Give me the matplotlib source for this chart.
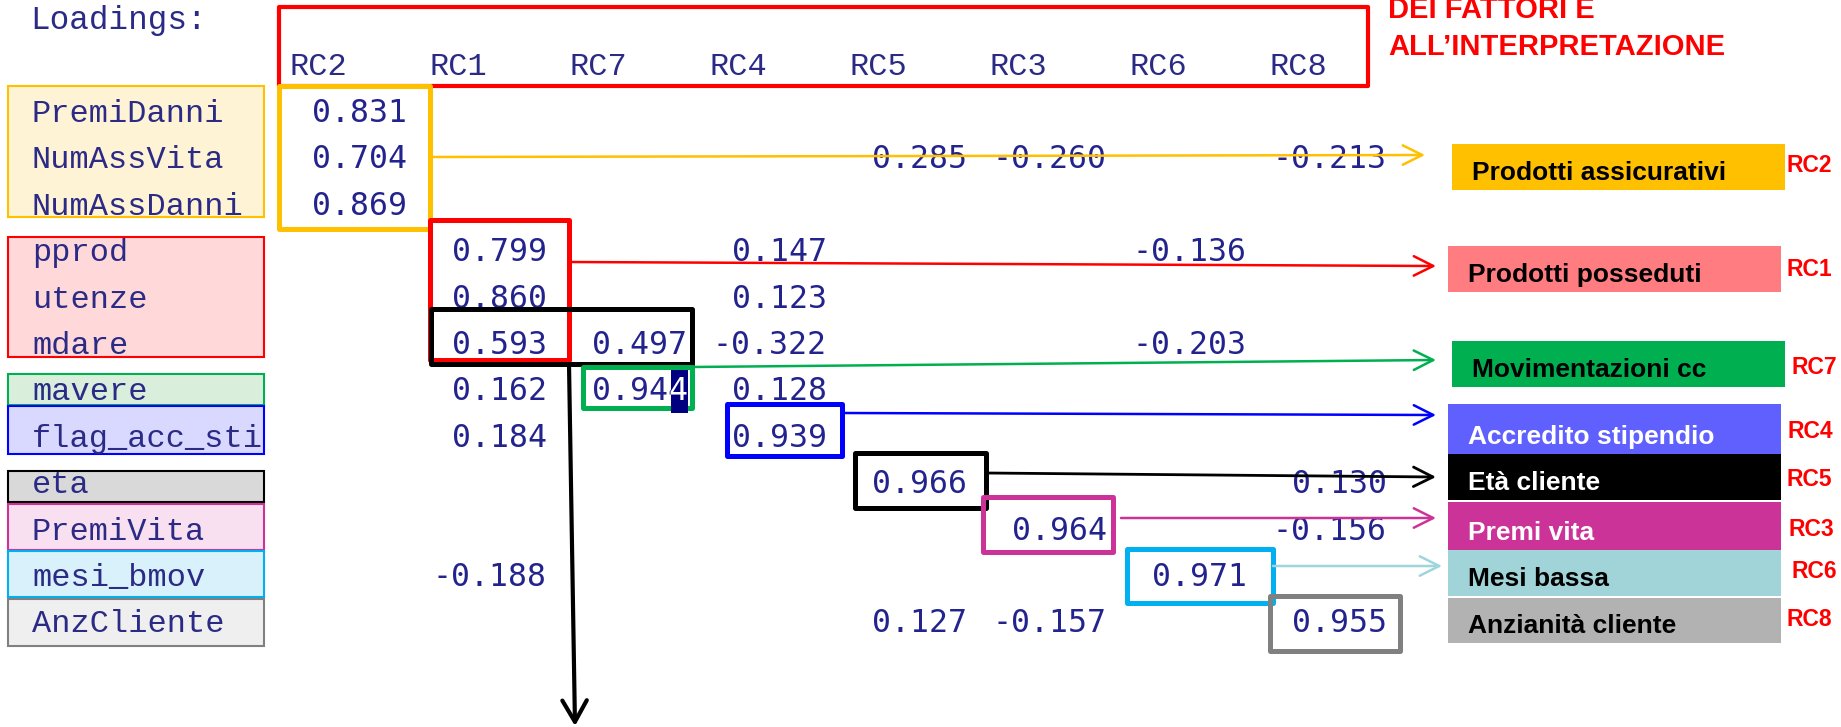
import matplotlib.pyplot as plt
from matplotlib.patches import Rectangle, FancyArrowPatch

# --- data -----------------------------------------------------------------
factors = ["RC2", "RC1", "RC7", "RC4", "RC5", "RC3", "RC6", "RC8"]
variables = ["PremiDanni", "NumAssVita", "NumAssDanni", "pprod", "utenze", "mdare",
             "mavere", "flag_acc_sti", "eta", "PremiVita", "mesi_bmov", "AnzCliente"]
# one list per factor column (None = blank, loading not printed)
RC2 = [0.831, 0.704, 0.869, None, None, None, None, None, None, None, None, None]
RC1 = [None, None, None, 0.799, 0.860, 0.593, 0.162, 0.184, None, None, -0.188, None]
RC7 = [None, None, None, None, None, 0.497, 0.944, None, None, None, None, None]
RC4 = [None, None, None, 0.147, 0.123, -0.322, 0.128, 0.939, None, None, None, None]
RC5 = [None, 0.285, None, None, None, None, None, None, 0.966, None, None, 0.127]
RC3 = [None, -0.260, None, None, None, None, None, None, None, 0.964, None, -0.157]
RC6 = [None, None, None, -0.136, None, -0.203, None, None, None, None, 0.971, None]
RC8 = [None, -0.213, None, None, None, None, None, None, 0.130, -0.156, None, 0.955]
loadings = [RC2, RC1, RC7, RC4, RC5, RC3, RC6, RC8]

interp_labels = ["Prodotti assicurativi", "Prodotti posseduti", "Movimentazioni cc",
                 "Accredito stipendio", "Età cliente", "Premi vita", "Mesi bassa",
                 "Anzianità cliente"]
interp_factors = ["RC2", "RC1", "RC7", "RC4", "RC5", "RC3", "RC6", "RC8"]

# --- layout ---------------------------------------------------------------
W, H = 1841, 727
col_right0, col_step = 407, 140
row_y0, row_step = 110.5, 46.4
num_col = "#23238e"
lab_col = "#2b2b86"

def col_right(j):
    return col_right0 + col_step * j

def row_y(i):
    return row_y0 + row_step * i

# variable-label groups: (top, bottom, fill, edge)
label_groups = [
    (86, 217, "#fff3d6", "#ffc000"),
    (237, 357, "#ffd9d9", "#ff0000"),
    (374, 405, "#d9efdc", "#00b050"),
    (406, 454, "#d9d9ff", "#0000ff"),
    (471, 502, "#d9d9d9", "#000000"),
    (504, 550, "#f8e0f0", "#cc3399"),
    (551, 597, "#d9f1fa", "#00b0f0"),
    (599, 646, "#efefef", "#808080"),
]

# highlight boxes on the table: (x0, y0, x1, y1, colour)
hl_boxes = [
    (279, 86, 430, 229, "#ffc000"),
    (430, 220, 569, 360, "#ff0000"),
    (431, 309, 692, 364, "#000000"),
    (583, 367, 692, 408, "#00b050"),
    (727, 404, 842, 456, "#0000ff"),
    (855, 453, 986, 508, "#000000"),
    (983, 497, 1113, 552, "#cc3399"),
    (1127, 549, 1273, 603, "#00b0f0"),
    (1270, 596, 1400, 651, "#808080"),
]

# interpretation boxes: (x0, y0, x1, y1, fill, text colour)
interp_boxes = [
    (1452, 144, 1785, 190, "#ffc000", "black"),
    (1448, 246, 1781, 292, "#ff7c80", "black"),
    (1452, 341, 1785, 387, "#00b050", "black"),
    (1448, 404, 1781, 454, "#6060ff", "white"),
    (1448, 454, 1781, 500, "#000000", "white"),
    (1448, 502, 1781, 550, "#cc3399", "white"),
    (1448, 550, 1781, 596, "#a0d4d9", "black"),
    (1448, 598, 1781, 643, "#b2b2b2", "black"),
]
rc_label_pos = [(1787, 164), (1787, 268), (1792, 365), (1788, 430),
                (1787, 477), (1789, 527), (1792, 569), (1787, 618)]

# arrows: (start, end, colour, linewidth)
arrows = [
    ((430, 157), (1425, 155), "#ffc000", 1.8),
    ((569, 262), (1436, 266), "#ff0000", 1.8),
    ((692, 367), (1436, 360), "#00b050", 1.8),
    ((842, 413), (1436, 415), "#0000ff", 1.8),
    ((986, 473), (1436, 477), "#000000", 2.0),
    ((1121, 518), (1436, 518), "#cc3399", 1.8),
    ((1273, 566), (1442, 566), "#9fd5dc", 1.8),
]

# --- figure ---------------------------------------------------------------
fig = plt.figure(figsize=(W / 100, H / 100), dpi=100)
ax = fig.add_axes([0, 0, 1, 1])
ax.set_xlim(0, W)
ax.set_ylim(H, 0)
ax.axis("off")

mono_lab = "Liberation Mono"
mono_num = "DejaVu Sans Mono"
sans = "Liberation Sans"

ax.text(30, 29, "Loadings:", family=mono_lab, fontsize=23.5, color=lab_col, va="baseline")

# header box + factor names
ax.add_patch(Rectangle((279, 7), 1368 - 279, 86 - 7, fill=False, ec="#ff0000", lw=3.0, joinstyle="round", zorder=3))
for j, f in enumerate(factors):
    ax.text(col_right(j) - 117, 75, f, family=mono_lab, fontsize=23, color=lab_col, va="baseline")

# variable label boxes
for top, bot, fc, ec in label_groups:
    ax.add_patch(Rectangle((8, top), 264 - 8, bot - top, fc=fc, ec=ec, lw=1.5, zorder=1))
for i, v in enumerate(variables):
    ax.text(32, row_y(i) + 11.5, v, family=mono_lab, fontsize=23, color=lab_col,
            va="baseline", zorder=2, clip_on=True)

# loadings
for j, col in enumerate(loadings):
    for i, val in enumerate(col):
        if val is None:
            continue
        ax.text(col_right(j), row_y(i) + 11.5, f"{val:.3f}", family=mono_num, fontsize=22.7,
                color=num_col, ha="right", va="baseline", zorder=2)

# text-selection artefact on the last digit of 0.944
ax.add_patch(Rectangle((671, 370), 17, 43, fc="#000080", ec="none", zorder=4))
ax.text(col_right(2), row_y(6) + 11.5, "4", family=mono_num, fontsize=22.7, color="white",
        ha="right", va="baseline", zorder=5)

# highlight boxes
for x0, y0, x1, y1, c in hl_boxes:
    ax.add_patch(Rectangle((x0, y0), x1 - x0, y1 - y0, fill=False, ec=c, lw=3.6,
                           joinstyle="round", zorder=3))

# arrows
for (xs, ys), (xe, ye), c, lw in arrows:
    ax.add_patch(FancyArrowPatch((xs, ys), (xe, ye), arrowstyle="->,head_length=0.7,head_width=0.35",
                                 mutation_scale=20, color=c, lw=lw, shrinkA=0, shrinkB=0, zorder=3))
ax.add_patch(FancyArrowPatch((569, 364), (575, 726), arrowstyle="->,head_length=0.7,head_width=0.4",
                             mutation_scale=22, color="black", lw=3.0, shrinkA=0, shrinkB=0, zorder=3))

# interpretation boxes
for (x0, y0, x1, y1, fc, tc), lab in zip(interp_boxes, interp_labels):
    ax.add_patch(Rectangle((x0, y0), x1 - x0, y1 - y0, fc=fc, ec="none", zorder=1))
    ax.text(x0 + 20, y1 - 10, lab, family=sans, weight="bold", fontsize=19, color=tc,
            va="baseline", zorder=2)
for (x, y), f in zip(rc_label_pos, interp_factors):
    ax.text(x, y + 8.5, f, family=sans, weight="bold", fontsize=16.5, color="#ff0000", va="baseline")

ax.text(1388, 18, "DEI FATTORI E", family=sans, weight="bold", fontsize=21, color="#ff0000", va="baseline")
ax.text(1388, 55, "ALL\u2019INTERPRETAZIONE", family=sans, weight="bold", fontsize=21, color="#ff0000", va="baseline")

fig.savefig("out.png", dpi=100)
